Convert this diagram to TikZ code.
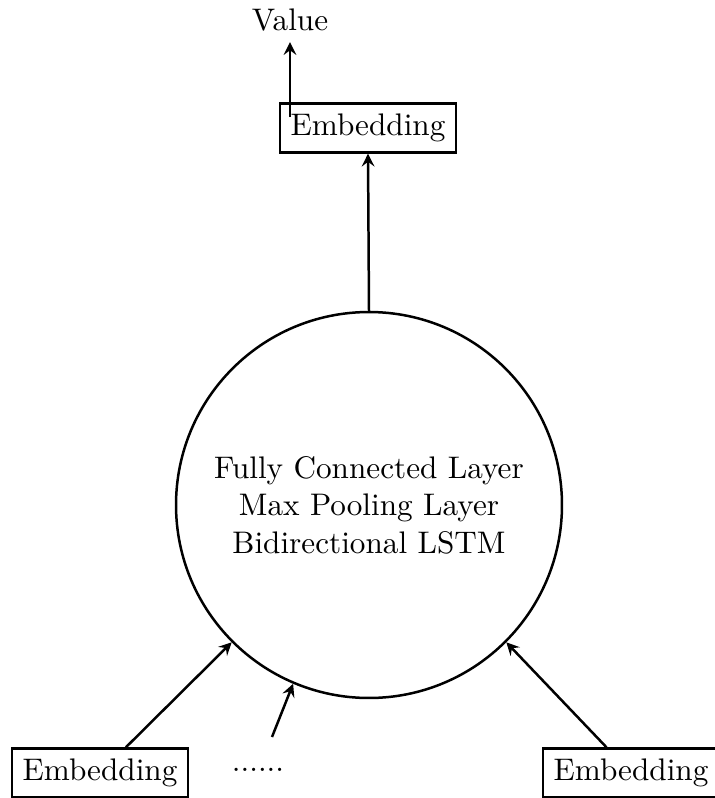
\documentclass[tikz,border=0pt]{standalone}
\begin{document}
\begin{tikzpicture}[x=0.3205pt,y=-0.3205pt,>=stealth,
  box/.style={draw,thick,inner sep=3.33pt},
  arr/.style={->,thick},
  big/.style={draw,thick,circle,minimum size=123.7pt,align=center,inner sep=0pt}]
\useasboundingbox (0,0) rectangle (714,798);
\node[big] (c) at (369,505) {Fully Connected Layer\\Max Pooling Layer\\Bidirectional LSTM};
\node[box] (top) at (368,128) {Embedding};
\node (val) at (290,20) {Value};
\coordinate (vs) at (290,117);
\node[box] (e1) at (100,773) {Embedding};
\node[box] (e2) at (631,773) {Embedding};
\node (dots) at (258,770) {......};
\coordinate (ms) at (272,737);
\draw[arr] (c.north) -- (top.south);
\draw[arr] (vs) -- (val.south);
\draw[arr] (e1) -- (c.225);
\draw[arr] (e2) -- (c.315);
\draw[arr] (ms) -- (c.247);
\end{tikzpicture}
\end{document}
